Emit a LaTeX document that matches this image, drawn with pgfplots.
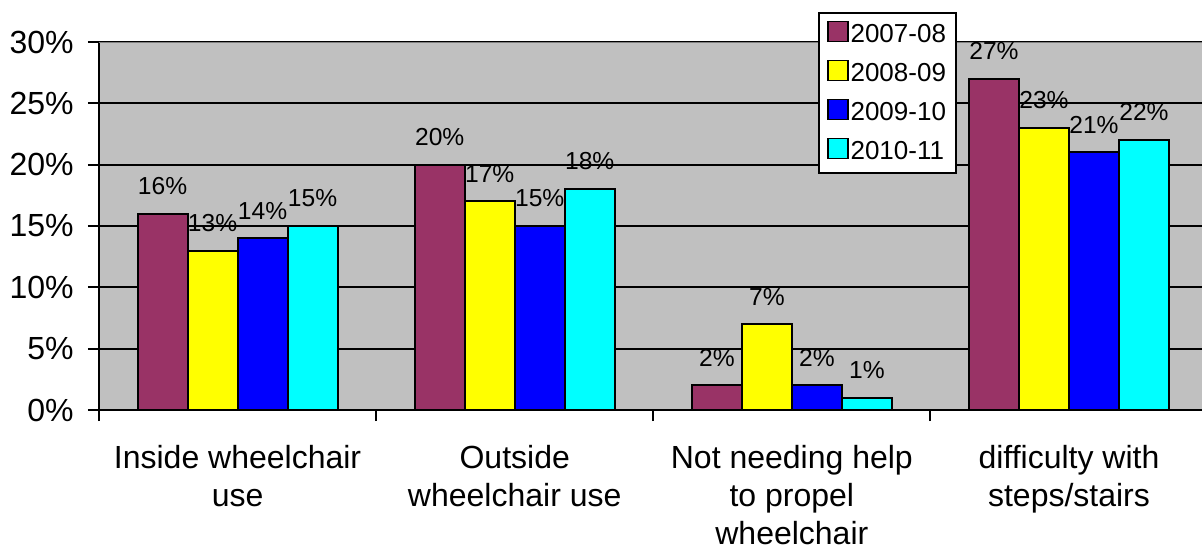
\documentclass[border=0pt]{standalone}
\usepackage{fontspec}
\setmainfont{Liberation Sans}
\usepackage{pgfplots}
\pgfplotsset{compat=1.18}
\definecolor{plum}{RGB}{153,51,102}
\definecolor{byellow}{RGB}{255,255,0}
\definecolor{bblue}{RGB}{0,0,255}
\definecolor{bcyan}{RGB}{0,255,255}
\definecolor{silver}{RGB}{192,192,192}
\definecolor{bordergray}{RGB}{128,128,128}

\begin{document}
\begin{tikzpicture}
\begin{axis}[
    scale only axis, width=551.5pt, height=184pt,
    ybar=0pt, bar width=25pt,
    xmin=-0.5, xmax=3.48, ymin=0, ymax=30,
    axis x line*=bottom, axis y line*=left,
    axis line style={-, line width=1pt, black},
    axis background/.style={fill=silver},
    ytick={0,5,...,30}, yticklabels={0\%,5\%,10\%,15\%,20\%,25\%,30\%},
    ymajorgrids, grid style={black, line width=1pt},
    tick align=outside, major tick length=5.5pt,
    tick style={black, line width=1pt},
    yticklabel style={font=\fontsize{16}{19}\selectfont, inner xsep=0pt, xshift=-7pt},
    xtick={-0.5,0.5,1.5,2.5,3.5}, xticklabels={},
    extra x ticks={0,1,2,3},
    extra x tick labels={Inside wheelchair\\use, Outside\\wheelchair use,
      Not needing help\\to propel\\wheelchair, difficulty with\\steps/stairs},
    extra x tick style={major tick length=0pt, grid=none,
      xticklabel style={align=center, font=\fontsize{16}{19}\selectfont,
        anchor=north, inner sep=0pt, yshift=-17.5pt}},
    /pgf/number format/assume math mode=true,
    nodes near coords={\pgfmathprintnumber{\pgfplotspointmeta}\%},
    every node near coord/.append style={font=\fontsize{12.3}{14}\selectfont,
      black, inner sep=0pt, yshift=9pt},
    legend image code/.code={\draw[#1, line width=0.8pt] (0pt,-3.5pt) rectangle (10pt,6.5pt);},
    legend cell align=left,
    legend style={at={(0.652,1.0815)}, anchor=north west, draw=black,
      line width=0.8pt, fill=white, font=\fontsize{13}{15}\selectfont,
      inner xsep=4pt, inner ysep=1pt, row sep=0pt,
      nodes={inner xsep=1pt, inner ysep=4.25pt, text height=9.5pt, text depth=1.5pt}},
  ]
  \addplot[fill=plum, draw=black, line width=1pt]
    coordinates {(0,16) (1,20) (2,2) (3,27)};
  \addplot[fill=byellow, draw=black, line width=1pt]
    coordinates {(0,13) (1,17) (2,7) (3,23)};
  \addplot[fill=bblue, draw=black, line width=1pt]
    coordinates {(0,14) (1,15) (2,2) (3,21)};
  \addplot[fill=bcyan, draw=black, line width=1pt]
    coordinates {(0,15) (1,18) (2,1) (3,22)};
  \legend{2007-08, 2008-09, 2009-10, 2010-11}
  \draw[bordergray, line width=1pt] (rel axis cs:0,1) -- (rel axis cs:1,1);
\end{axis}
\pgfresetboundingbox
\useasboundingbox (-49.5pt,-69pt) rectangle (551.5pt,205pt);
\end{tikzpicture}
\end{document}
